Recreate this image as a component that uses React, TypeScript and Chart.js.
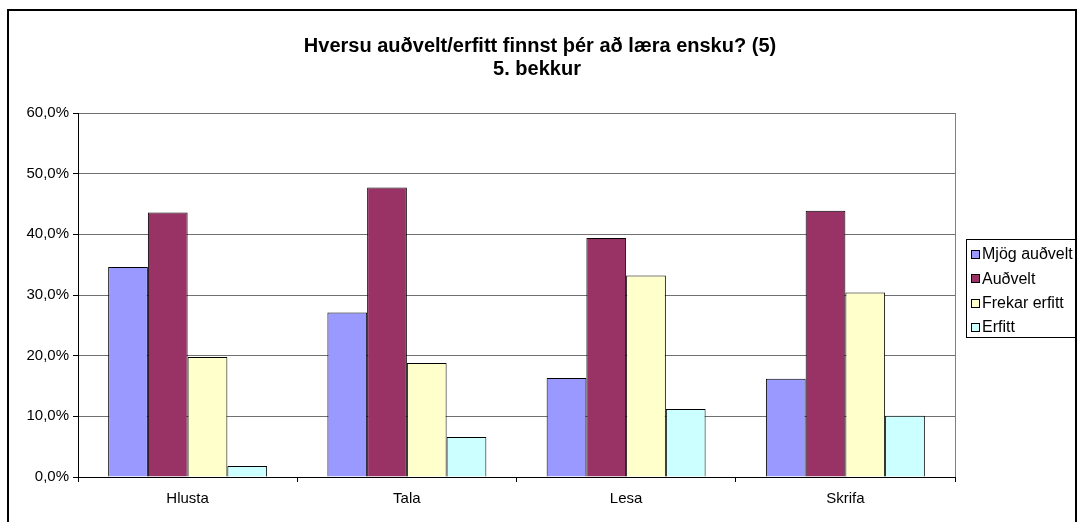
import React, { useEffect, useRef } from "react";
import { Chart, registerables } from "chart.js";

Chart.register(...registerables);

const categories = ["Hlusta", "Tala", "Lesa", "Skrifa"];
const seriesNames = ["Mjög auðvelt", "Auðvelt", "Frekar erfitt", "Erfitt"];
const mjogAudvelt = [34.6, 27.1, 16.3, 16.2];
const audvelt = [43.6, 47.7, 39.4, 43.9];
const frekarErfitt = [19.8, 18.8, 33.2, 30.4];
const erfitt = [1.8, 6.6, 11.2, 10.1];
const seriesColors = ["#9999FF", "#993366", "#FFFFCC", "#CCFFFF"];
const titleLines = ["Hversu auðvelt/erfitt finnst þér að læra ensku? (5)", "5. bekkur"];
const yTicks = [0, 10, 20, 30, 40, 50, 60];

const FONT = '"Liberation Sans", Arial, sans-serif';

const framePlugin = {
  id: "framePlugin",
  beforeDraw(chart: any) {
    const ctx = chart.ctx;
    ctx.save();
    ctx.fillStyle = "#fff";
    ctx.fillRect(0, 0, chart.width, chart.height);
    ctx.strokeStyle = "#000";
    ctx.lineWidth = 2;
    ctx.strokeRect(8, 10, 1068, 700);
    ctx.restore();
  },
  afterDraw(chart: any) {
    const ctx = chart.ctx;
    const a = chart.chartArea;
    ctx.save();
    ctx.strokeStyle = "#808080";
    ctx.lineWidth = 1;
    ctx.beginPath();
    ctx.moveTo(Math.round(a.right) + 0.5, a.top);
    ctx.lineTo(Math.round(a.right) + 0.5, a.bottom);
    ctx.stroke();
    // title
    ctx.fillStyle = "#000";
    ctx.font = `bold 20px ${FONT}`;
    ctx.textAlign = "center";
    ctx.textBaseline = "middle";
    ctx.fillText(titleLines[0], 540, 46);
    ctx.fillText(titleLines[1], 537, 69);
    // legend
    const lx = 966, ly = 239, lw = 109, lh = 98;
    ctx.strokeStyle = "#000";
    ctx.lineWidth = 1;
    ctx.strokeRect(lx + 0.5, ly + 0.5, lw, lh);
    ctx.font = `16px ${FONT}`;
    ctx.textAlign = "left";
    chart.data.datasets.forEach((ds: any, i: number) => {
      const cy = 254 + i * 24.3;
      ctx.fillStyle = ds.backgroundColor;
      ctx.fillRect(971, Math.round(cy - 4), 8, 8);
      ctx.strokeStyle = "#000";
      ctx.strokeRect(971.5, Math.round(cy - 4) + 0.5, 8, 8);
      ctx.fillStyle = "#000";
      ctx.fillText(ds.label, 982, cy + 1);
    });
    ctx.restore();
  },
};

export default function App() {
  const ref = useRef<HTMLCanvasElement>(null);
  useEffect(() => {
    if (!ref.current) return;
    const seriesValues = [mjogAudvelt, audvelt, frekarErfitt, erfitt];
    const chart = new Chart(ref.current, {
      type: "bar",
      data: {
        labels: categories,
        datasets: seriesNames.map((name, i) => ({
          label: name,
          data: seriesValues[i],
          backgroundColor: seriesColors[i],
          borderColor: "#000",
          borderWidth: 1,
          barPercentage: 1,
          categoryPercentage: 0.725,
        })),
      },
      options: {
        animation: false,
        responsive: false,
        maintainAspectRatio: false,
        devicePixelRatio: 1,
        layout: { padding: { left: 0, top: 113, right: 123, bottom: 0 } },
        plugins: {
          legend: { display: false },
          title: { display: false },
          tooltip: { enabled: false },
        },
        scales: {
          x: {
            grid: {
              offset: true,
              drawOnChartArea: false,
              drawTicks: true,
              tickLength: 5,
              tickColor: "#000",
              color: "#000",
            },
            border: { color: "#000", width: 1 },
            ticks: {
              color: "#000",
              font: { family: FONT, size: 15 },
              padding: 8,
              maxRotation: 0,
            },
            afterFit(scale: any) {
              scale.height = 45;
            },
          },
          y: {
            min: 0,
            max: 60,
            afterBuildTicks(scale: any) {
              scale.ticks = yTicks.map((v) => ({ value: v }));
            },
            grid: {
              color: "#707070",
              lineWidth: 1,
              drawTicks: true,
              tickLength: 5,
              tickColor: "#000",
            },
            border: { color: "#000", width: 1 },
            ticks: {
              color: "#000",
              font: { family: FONT, size: 15 },
              padding: 4,
              callback: (v: any) => Number(v).toFixed(1).replace(".", ",") + "%",
            },
            afterFit(scale: any) {
              scale.width = 78;
            },
          },
        },
      },
      plugins: [framePlugin],
    });
    return () => chart.destroy();
  }, []);
  return (
    <div style={{ position: "absolute", left: 0, top: 0, width: 1078, height: 522, background: "#fff" }}>
      <canvas ref={ref} width={1078} height={522} style={{ display: "block" }} />
    </div>
  );
}
